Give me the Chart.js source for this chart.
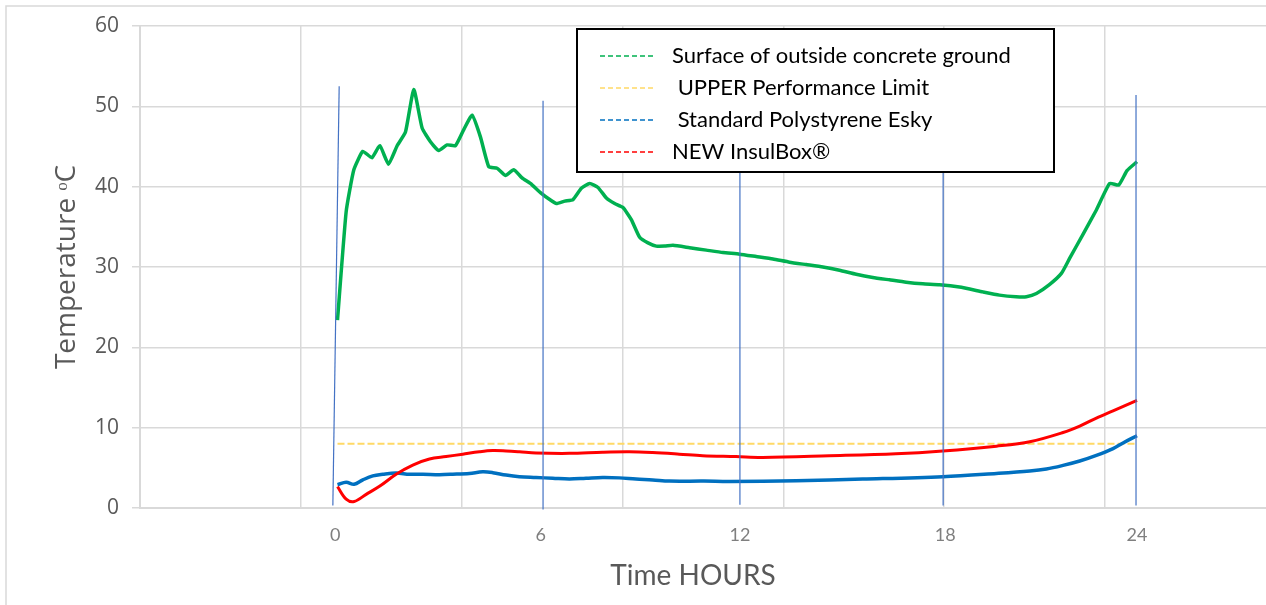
<!DOCTYPE html>
<html><head><meta charset="utf-8">
<script src="https://cdn.jsdelivr.net/npm/chart.js@4"></script>
<style>html,body{margin:0;padding:0;background:#fff;overflow:hidden}#wrap{position:relative;width:1266px;height:605px}</style>
</head><body><div id="wrap"><canvas id="c" width="1266" height="605"></canvas></div>
<script>
// ---- data (hours, temperature °C) ----
const seriesNames = ['Surface of outside concrete ground', ' UPPER Performance Limit', ' Standard Polystyrene Esky', 'NEW InsulBox\u00AE'];
const surfaceHours = [0.00,0.26,0.49,0.76,1.03,1.27,1.53,1.79,2.04,2.29,2.54,2.79,3.04,3.29,3.54,3.79,4.04,4.29,4.54,4.79,5.04,5.29,5.54,5.79,6.11,6.37,6.57,6.82,7.07,7.32,7.57,7.82,8.07,8.32,8.57,8.82,9.07,9.32,9.57,9.82,10.07,10.57,11.07,11.57,12.07,12.57,13.07,13.57,14.07,14.57,15.07,15.57,16.07,16.57,17.07,17.57,18.07,18.67,19.37,19.87,20.37,20.68,20.98,21.37,21.73,21.98,22.37,22.78,23.18,23.45,23.70,24.00];
const surfaceTemps = [23.4,36.9,42.1,44.4,43.6,45.1,42.8,45.1,46.8,52.1,47.3,45.6,44.5,45.2,45.1,47.1,48.9,46.2,42.5,42.3,41.4,42.1,41.1,40.4,39.2,38.4,37.9,38.2,38.4,39.8,40.4,39.9,38.6,37.9,37.4,35.9,33.7,33.0,32.6,32.6,32.7,32.4,32.1,31.8,31.6,31.3,31.0,30.6,30.3,30.0,29.6,29.1,28.7,28.4,28.1,27.9,27.8,27.5,26.9,26.5,26.3,26.3,26.7,27.8,29.2,31.1,34.0,37.1,40.4,40.2,42.0,43.1];
const limitHours = [0, 24];
const limitTemps = [8, 8];
const eskyHours = [0.00,0.26,0.50,0.76,1.06,1.36,1.76,2.16,2.56,3.06,3.46,3.96,4.36,4.66,5.06,5.46,5.96,6.46,6.96,7.46,7.96,8.46,8.96,9.46,9.96,11.0,11.77,13.77,15.77,18.17,19.78,20.78,21.28,21.78,22.28,22.78,23.28,23.58,24.00];
const eskyTemps = [2.9,3.2,2.95,3.5,4.0,4.2,4.35,4.2,4.2,4.15,4.2,4.3,4.5,4.4,4.1,3.9,3.8,3.7,3.6,3.7,3.8,3.75,3.6,3.5,3.35,3.35,3.3,3.4,3.6,3.9,4.3,4.6,4.85,5.3,5.85,6.55,7.4,8.1,9.0];
const insulHours = [0.00,0.26,0.50,0.86,1.26,1.76,2.26,2.76,3.26,3.76,4.26,4.66,5.06,5.46,5.96,6.96,7.96,8.76,9.46,10.26,10.96,11.96,12.76,14.76,16.76,18.17,19.78,20.78,21.78,22.28,22.78,23.28,24.00];
const insulTemps = [2.65,1.1,0.8,1.7,2.7,4.2,5.35,6.1,6.4,6.7,7.0,7.15,7.1,7.0,6.85,6.8,6.95,7.0,6.9,6.7,6.5,6.4,6.3,6.5,6.75,7.1,7.7,8.25,9.4,10.2,11.2,12.1,13.4];
// hand-drawn hour marker lines (hours / temperature at top and bottom ends)
const markerHoursTop = [0.05, 6.17, 12.08, 18.18, 23.97];
const markerHoursBottom = [-0.14, 6.17, 12.08, 18.18, 23.97];
const markerTempsTop = [52.5, 50.7, 50, 50, 51.4];
const markerTempsBottom = [0.3, -0.2, 0.4, 0.3, 0.3];
// x labels (text boxes under the marker lines)
const tickLabels = ['0', '6', '12', '18', '24'];
const tickLabelHours = [-0.07, 6.1, 12.08, 18.24, 24.0];
// vertical gridline positions of the underlying axis (hours)
const gridHours = [-1.096, 3.737, 8.570, 13.403, 18.206, 23.039];
const xTitle = 'Time HOURS';
const yTitle = 'Temperature \u1D52C';

const seriesColors = ['#00B050', '#FFD966', '#0070C0', '#FF0000'];
const X_MIN = -5.929, X_MAX = 27.872;

const zip = (xs, ys) => xs.map((x, i) => ({x, y: ys[i]}));
const datasets = [
  {label: seriesNames[3], data: zip(insulHours, insulTemps), borderColor: seriesColors[3], borderWidth: 3, tension: 0.35, order: 2},
  {label: seriesNames[2], data: zip(eskyHours, eskyTemps), borderColor: seriesColors[2], borderWidth: 3.5, tension: 0.35, order: 3},
  {label: seriesNames[1], data: zip(limitHours, limitTemps), borderColor: seriesColors[1], borderWidth: 2, borderDash: [7, 3], order: 4},
  {label: seriesNames[0], data: zip(surfaceHours, surfaceTemps), borderColor: seriesColors[0], borderWidth: 3.5, tension: 0.15, order: 1},
];
markerHoursTop.forEach((h, i) => {
  datasets.push({label: 'marker', data: [{x: h, y: markerTempsTop[i]}, {x: markerHoursBottom[i], y: markerTempsBottom[i]}],
    borderColor: '#4472C4', borderWidth: 1.2, clip: false, order: 0});
});

const frameAndLegend = {
  id: 'frameAndLegend',
  beforeDraw(chart) {
    const ctx = chart.ctx;
    ctx.save();
    ctx.strokeStyle = '#d9d9d9'; ctx.lineWidth = 1.5;
    ctx.beginPath(); ctx.moveTo(6, 605); ctx.lineTo(6, 6); ctx.lineTo(1266, 6); ctx.stroke();
    ctx.restore();
  },
  afterDraw(chart) {
    const ctx = chart.ctx;
    ctx.save();
    // x axis title (text box placed slightly left of the plot centre)
    ctx.font = '28px Lato'; ctx.fillStyle = '#595959';
    ctx.textAlign = 'center'; ctx.textBaseline = 'middle';
    ctx.fillText(xTitle, 693, 576);
    // legend box
    ctx.textAlign = 'left';
    const bx = 577, by = 29, bw = 477, bh = 143;
    ctx.fillStyle = '#fff'; ctx.fillRect(bx, by, bw, bh);
    ctx.strokeStyle = '#000'; ctx.lineWidth = 2; ctx.strokeRect(bx, by, bw, bh);
    const rows = [56, 88, 120, 152];
    ctx.font = '22px Lato';
    ctx.fillStyle = '#000';
    for (let i = 0; i < 4; i++) {
      ctx.setLineDash([5, 3]);
      ctx.strokeStyle = seriesColors[i]; ctx.lineWidth = 1.5;
      ctx.beginPath(); ctx.moveTo(600, rows[i]); ctx.lineTo(656, rows[i]); ctx.stroke();
      ctx.setLineDash([]);
      ctx.fillText(seriesNames[i], 672, rows[i]);
    }
    ctx.restore();
  }
};

new Chart(document.getElementById('c'), {
  type: 'line',
  data: {datasets},
  options: {
    responsive: false, animation: false, devicePixelRatio: 1,
    layout: {padding: {left: 0, right: 0, top: 26, bottom: 0}},
    elements: {point: {radius: 0}, line: {fill: false}},
    plugins: {legend: {display: false}, tooltip: {enabled: false}},
    scales: {
      x: {
        type: 'linear', min: X_MIN, max: X_MAX, position: 'bottom', weight: 0,
        afterBuildTicks: s => { s.ticks = gridHours.map(v => ({value: v})); },
        ticks: {display: false},
        grid: {color: '#d9d9d9', lineWidth: 1.5, drawTicks: false},
        border: {display: true, color: '#d9d9d9', width: 2},
        afterFit: s => { s.height = 0; }
      },
      x2: {
        type: 'linear', axis: 'x', min: X_MIN, max: X_MAX, position: 'bottom', weight: 1,
        afterBuildTicks: s => { s.ticks = tickLabelHours.map(v => ({value: v})); },
        ticks: {autoSkip: false, maxRotation: 0, color: '#7f7f7f', font: {family: 'Lato', size: 18}, padding: 16,
          callback: (v, i) => tickLabels[i]},
        grid: {display: false, drawTicks: false},
        border: {display: false},
        title: {display: false},
        afterFit: s => { s.height = 97; }
      },
      y: {
        min: 0, max: 60,
        ticks: {stepSize: 10, color: '#595959', font: {family: 'Open Sans', size: 21}, padding: 13},
        grid: {color: '#d9d9d9', lineWidth: 1.5, tickLength: 8},
        border: {display: true, color: '#d9d9d9', width: 2},
        title: {display: true, text: yTitle, color: '#595959', font: {family: 'Open Sans', size: 28}, padding: {top: 50, bottom: 0}},
        afterFit: s => { s.width = 140; }
      }
    }
  },
  plugins: [frameAndLegend]
});
</script>
</body></html>
